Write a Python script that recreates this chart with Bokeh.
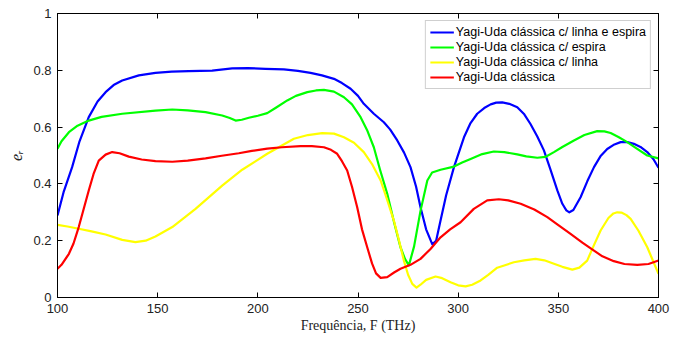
from bokeh.plotting import figure
from bokeh.models import LinearAxis, Range1d, FixedTicker, Legend, LegendItem, CustomJSTickFormatter
from bokeh.embed import file_html
from bokeh.resources import INLINE

# ---- data ----
blue_x = [100, 103, 107.3, 111, 115.6, 120, 124, 128, 132.3, 140.6, 148.9, 157, 165.5, 177.2, 187.2, 195, 203.8, 213, 220, 226.3, 232, 238, 242, 246.3, 250, 252.9, 257.9, 262.9, 266, 269.6, 273, 276.2, 279, 281.2, 284, 287.1, 289, 291.2, 294, 297.9, 302.9, 306, 309.5, 313, 316.2, 319, 322, 325.5, 329.5, 333, 336.1, 339.5, 342.8, 346, 349.5, 352, 354, 355.5, 357.5, 361.1, 364.5, 367.8, 371, 374.4, 378, 381.1, 384.5, 387.7, 391, 394.4, 397.5, 400]
blue_y = [0.289, 0.37, 0.459, 0.55, 0.635, 0.69, 0.723, 0.748, 0.764, 0.782, 0.791, 0.795, 0.797, 0.799, 0.807, 0.808, 0.805, 0.803, 0.798, 0.791, 0.782, 0.77, 0.755, 0.735, 0.71, 0.682, 0.647, 0.617, 0.592, 0.553, 0.51, 0.459, 0.39, 0.318, 0.24, 0.187, 0.2, 0.271, 0.36, 0.459, 0.564, 0.612, 0.647, 0.667, 0.68, 0.686, 0.687, 0.682, 0.67, 0.645, 0.611, 0.567, 0.518, 0.452, 0.377, 0.33, 0.307, 0.300, 0.308, 0.353, 0.41, 0.459, 0.497, 0.523, 0.539, 0.547, 0.547, 0.541, 0.53, 0.512, 0.487, 0.457]

green_x = [100, 102, 105.7, 110, 115.6, 122, 132.3, 148.9, 157.3, 165, 173.9, 182.2, 186, 188.9, 192, 195.5, 200, 204.7, 209, 214.7, 219, 224.7, 229, 233, 238, 243, 247, 251.3, 254.5, 257.9, 261, 264.6, 268, 271.2, 273.5, 275.4, 278, 281.2, 284.6, 287, 291.2, 297.9, 302, 306.2, 312, 317.8, 323, 329.5, 334, 339.5, 343.5, 347.8, 352, 357.8, 363, 369.4, 373, 376.1, 380, 384.4, 389, 394.4, 400]
green_y = [0.524, 0.55, 0.582, 0.605, 0.623, 0.636, 0.647, 0.658, 0.662, 0.659, 0.653, 0.641, 0.632, 0.623, 0.626, 0.633, 0.64, 0.649, 0.668, 0.694, 0.71, 0.723, 0.729, 0.731, 0.725, 0.705, 0.68, 0.635, 0.59, 0.529, 0.45, 0.365, 0.265, 0.177, 0.135, 0.113, 0.18, 0.305, 0.412, 0.44, 0.45, 0.461, 0.475, 0.488, 0.505, 0.514, 0.512, 0.504, 0.497, 0.492, 0.495, 0.512, 0.53, 0.553, 0.572, 0.586, 0.585, 0.579, 0.565, 0.547, 0.525, 0.5, 0.49]

yellow_x = [100, 105, 110.6, 117, 124, 132.3, 138.9, 144, 148.9, 157.3, 168.9, 182.2, 192.2, 204.7, 218, 225, 232.1, 238, 243, 248, 252.9, 257, 261.3, 264.5, 267.9, 270.5, 272.9, 275, 277.1, 279.2, 281.2, 284, 288.7, 292, 296.2, 300, 303.7, 307, 311.2, 315, 319.5, 327.8, 333, 338.6, 343, 347.8, 352, 357, 360.5, 364.4, 367.5, 371.1, 375, 377.5, 379.4, 381.5, 384, 386.1, 390, 394.4, 397.5, 400]
yellow_y = [0.256, 0.25, 0.242, 0.233, 0.222, 0.203, 0.195, 0.2, 0.215, 0.248, 0.312, 0.394, 0.45, 0.506, 0.559, 0.572, 0.579, 0.577, 0.564, 0.545, 0.512, 0.47, 0.412, 0.345, 0.271, 0.2, 0.13, 0.08, 0.048, 0.035, 0.045, 0.062, 0.074, 0.068, 0.054, 0.043, 0.039, 0.045, 0.06, 0.08, 0.105, 0.124, 0.131, 0.136, 0.131, 0.119, 0.108, 0.098, 0.105, 0.13, 0.18, 0.236, 0.28, 0.296, 0.30, 0.299, 0.29, 0.277, 0.235, 0.177, 0.125, 0.083]

red_x = [100, 102, 105.7, 108, 110.6, 113, 115.6, 118, 120.6, 124, 127.3, 131, 135.6, 142, 148.9, 157.3, 165, 173.9, 182, 190.5, 197, 204.7, 212, 221.3, 227, 233, 236.5, 239.6, 242, 244.6, 247, 249.6, 252, 254.6, 257, 259, 261.3, 264.6, 268, 271.2, 276.2, 281.2, 286.2, 291.2, 296, 301.2, 307.8, 314.5, 320.3, 325, 331.2, 338, 344.5, 350, 356.1, 362, 367.8, 372, 377.7, 383, 389.4, 395, 400]
red_y = [0.101, 0.115, 0.154, 0.19, 0.248, 0.31, 0.377, 0.435, 0.482, 0.503, 0.512, 0.508, 0.496, 0.486, 0.48, 0.478, 0.482, 0.49, 0.499, 0.508, 0.516, 0.524, 0.529, 0.533, 0.533, 0.529, 0.52, 0.506, 0.48, 0.447, 0.39, 0.318, 0.24, 0.177, 0.12, 0.085, 0.069, 0.072, 0.088, 0.101, 0.115, 0.136, 0.171, 0.212, 0.24, 0.265, 0.312, 0.342, 0.346, 0.342, 0.33, 0.31, 0.283, 0.255, 0.224, 0.193, 0.165, 0.145, 0.128, 0.118, 0.115, 0.118, 0.13]

series_names = ["Yagi-Uda clássica c/ linha e espira", "Yagi-Uda clássica c/ espira",
                "Yagi-Uda clássica c/ linha", "Yagi-Uda clássica"]
series_colors = ["#0000FF", "#00FF00", "#FFFF00", "#FF0000"]
x_ticks = [100, 150, 200, 250, 300, 350, 400]
y_ticks = [0, 0.2, 0.4, 0.6, 0.8, 1]

p = figure(frame_width=601, frame_height=284, output_backend="svg", toolbar_location=None,
           x_range=Range1d(100, 400), y_range=Range1d(0, 1),
           min_border_left=57, min_border_right=12, min_border_top=13, min_border_bottom=33)
p.background_fill_color = "white"
p.border_fill_color = "white"
p.outline_line_color = "black"
p.outline_line_width = 1
p.xgrid.visible = False
p.ygrid.visible = False

tick_font = "Liberation Sans"
for ax in (p.xaxis[0], p.yaxis[0]):
    ax.major_tick_in = 5
    ax.major_tick_out = 0
    ax.minor_tick_line_color = None
    ax.axis_line_color = "black"
    ax.major_tick_line_color = "black"
    ax.major_label_text_font = tick_font
    ax.major_label_text_font_size = "13px"
    ax.major_label_text_color = "#222222"
    ax.axis_label_text_font_style = "normal"
    ax.axis_label_text_color = "#222222"

p.xaxis[0].ticker = FixedTicker(ticks=x_ticks)
p.yaxis[0].ticker = FixedTicker(ticks=y_ticks)
p.xaxis[0].major_label_standoff = 6
p.yaxis[0].major_label_standoff = 6
p.yaxis[0].major_label_overrides = {0: "0", 1: "1"}
p.xaxis[0].axis_label = "Frequência, F (THz)"
p.xaxis[0].axis_label_text_font = "Liberation Serif"
p.xaxis[0].axis_label_text_font_size = "14px"
p.xaxis[0].axis_label_standoff = 2
p.yaxis[0].axis_label = "eᵣ"
p.yaxis[0].axis_label_text_font = "Liberation Serif"
p.yaxis[0].axis_label_text_font_style = "italic"
p.yaxis[0].axis_label_text_font_size = "16px"
p.yaxis[0].axis_label_standoff = 5

blank = CustomJSTickFormatter(code="return '';")
top = LinearAxis(ticker=FixedTicker(ticks=x_ticks), major_tick_in=5, major_tick_out=0,
                 minor_tick_line_color=None, formatter=blank,
                 major_label_standoff=0, axis_line_color="black")
right = LinearAxis(ticker=FixedTicker(ticks=y_ticks), major_tick_in=5, major_tick_out=0,
                   minor_tick_line_color=None, formatter=blank,
                   major_label_standoff=0, axis_line_color="black")
p.add_layout(top, "above")
p.add_layout(right, "right")

renderers = []
for xs, ys, c in zip([blue_x, green_x, yellow_x, red_x], [blue_y, green_y, yellow_y, red_y], series_colors):
    r = p.line(xs, ys, line_color=c, line_width=2.2, line_join="round")
    renderers.append(r)

legend = Legend(items=[LegendItem(label=n, renderers=[r]) for n, r in zip(series_names, renderers)],
                location="top_right")
legend.label_text_font = tick_font
legend.label_text_font_size = "12.5px"
legend.label_text_color = "black"
legend.glyph_width = 24
legend.glyph_height = 14
legend.label_height = 14
legend.label_standoff = 2
legend.spacing = 1
legend.padding = 4
legend.margin = 7
legend.border_line_color = "#A0A0A0"
legend.border_line_width = 1
legend.background_fill_color = "white"
legend.background_fill_alpha = 1
p.add_layout(legend, "center")

open("out.html", "w").write(file_html(p, INLINE))
